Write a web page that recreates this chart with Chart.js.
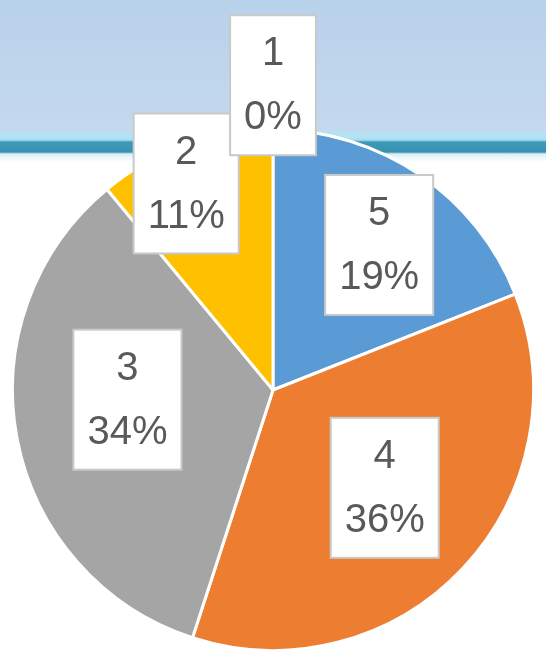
<!DOCTYPE html>
<html>
<head>
<meta charset="utf-8">
<script src="https://cdn.jsdelivr.net/npm/chart.js@4"></script>
<style>
  html, body { margin:0; padding:0; width:546px; height:659px; overflow:hidden; }
  body {
    background: linear-gradient(to bottom,
      #b8d2e9 0px, #c4d8ee 128px, #b3e4f4 136px, #a9def0 140px,
      #3e9aba 142px, #3890b1 152px, #d9f1f9 154px, #ffffff 162px, #ffffff 100%);
  }
  #wrap { position:absolute; left:0; top:0; width:546px; height:659px; }
</style>
</head>
<body>
<div id="wrap"><canvas id="chart"></canvas></div>
<script>
// slices go clockwise from 12 o'clock
const categories = ['5', '4', '3', '2', '1'];
const shares = [19, 36, 34, 11, 0];
const sliceColors = ['#5b9bd5', '#ed7d31', '#a5a5a5', '#ffc000', '#4472c4'];

// where each label box sits: fraction of radius along the slice middle, plus a small turn (deg)
const labelRadius = [0.69, 0.57, 0.56, 0.86, 1.17];
const labelTurn = [2, -2, 7, -3, 0];

const boxLabels = {
  id: 'boxLabels',
  afterDatasetsDraw(chart) {
    const ctx = chart.ctx;
    const meta = chart.getDatasetMeta(0);
    const total = shares.reduce((a, b) => a + b, 0);
    ctx.save();
    ctx.font = '40px "Liberation Sans", Arial, sans-serif';
    ctx.textAlign = 'center';
    ctx.textBaseline = 'middle';
    meta.data.forEach((arc, i) => {
      const p = arc.getProps(['x', 'y', 'startAngle', 'endAngle', 'outerRadius'], true);
      const mid = (p.startAngle + p.endAngle) / 2 + labelTurn[i] * Math.PI / 180;
      const r = p.outerRadius * labelRadius[i];
      const cx = p.x + Math.cos(mid) * r;
      const cy = p.y + Math.sin(mid) * r;
      const l1 = categories[i];
      const l2 = Math.round(shares[i] / total * 100) + '%';
      const w = Math.max(ctx.measureText(l1).width, ctx.measureText(l2).width) + 28;
      const h = 140;
      ctx.fillStyle = '#ffffff';
      ctx.fillRect(cx - w / 2, cy - h / 2, w, h);
      ctx.strokeStyle = '#c9c9c9';
      ctx.lineWidth = 2;
      ctx.strokeRect(cx - w / 2, cy - h / 2, w, h);
      ctx.fillStyle = '#595959';
      ctx.fillText(l1, cx, cy - 31);
      ctx.fillText(l2, cx, cy + 33);
    });
    ctx.restore();
  }
};

new Chart(document.getElementById('chart'), {
  type: 'pie',
  data: {
    labels: categories,
    datasets: [{
      data: shares,
      backgroundColor: sliceColors,
      borderColor: '#ffffff',
      borderWidth: 3
    }]
  },
  options: {
    responsive: true,
    maintainAspectRatio: false,
    animation: false,
    layout: { padding: { top: 128, bottom: 7, left: 0, right: 0 } },
    plugins: {
      legend: { display: false },
      tooltip: { enabled: false }
    }
  },
  plugins: [boxLabels]
});
</script>
</body>
</html>
